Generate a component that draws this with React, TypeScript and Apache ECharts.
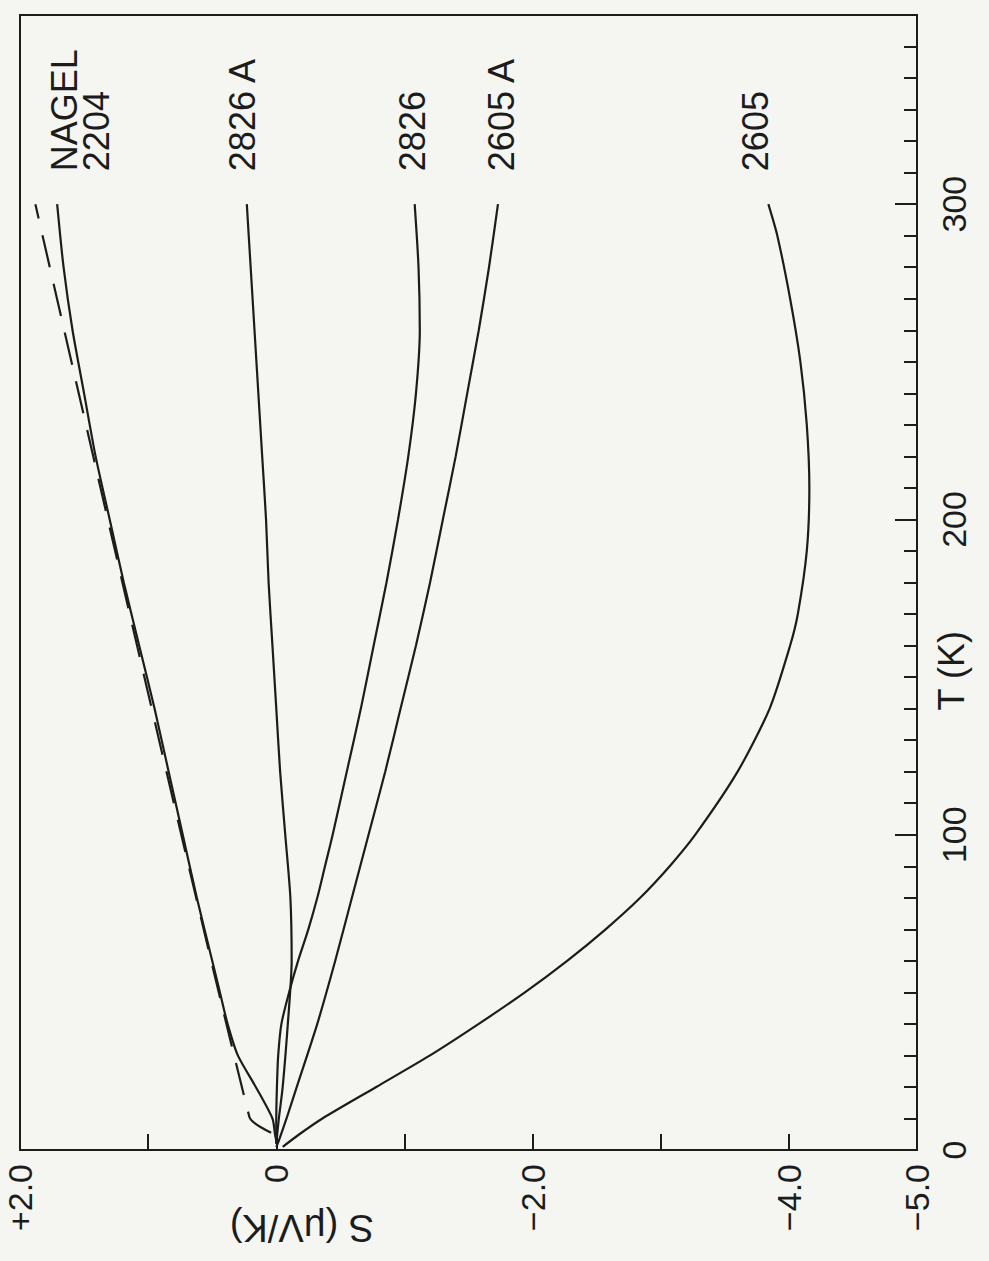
import React, { useEffect, useRef } from "react";
import * as echarts from "echarts";

// S axis (horizontal, µV/K) tick labels; T axis (vertical, K) tick labels
const S_TICK_LABELS: Record<string, string> = { "2": "+2.0", "0": "0", "-2": "−2.0", "-4": "−4.0", "-5": "−5.0" };
const T_TICK_LABELS: Record<string, string> = { "0": "0", "100": "100", "200": "200", "300": "300" };

// NAGEL reference (dashed)
const T_NAGEL = [5.5, 10.5, 300];
const S_NAGEL = [0.04, 0.21, 1.88];

// 2204
const T_2204 = [3, 5, 10, 20, 30, 40, 50, 60, 80, 100, 120, 140, 160, 180, 200, 220, 240, 260, 280, 300];
const S_2204 = [0.0, 0.01, 0.03, 0.16, 0.3, 0.38, 0.44, 0.5, 0.62, 0.73, 0.84, 0.95, 1.07, 1.19, 1.3, 1.41, 1.5, 1.59, 1.66, 1.71];

// 2826 A
const T_2826A = [2, 10, 20, 40, 60, 80, 100, 120, 140, 160, 180, 200, 220, 240, 260, 280, 300];
const S_2826A = [0.0, -0.02, -0.05, -0.09, -0.12, -0.11, -0.07, -0.03, 0.0, 0.03, 0.06, 0.08, 0.11, 0.14, 0.17, 0.2, 0.23];

// 2826
const T_2826 = [2, 10, 20, 30, 40, 50, 60, 70, 80, 90, 100, 120, 140, 160, 180, 200, 220, 240, 260, 280, 300];
const S_2826 = [0.0, 0.0, -0.005, -0.015, -0.04, -0.1, -0.17, -0.25, -0.32, -0.38, -0.44, -0.55, -0.66, -0.76, -0.86, -0.95, -1.03, -1.09, -1.12, -1.11, -1.08];

// 2605 A
const T_2605A = [1, 3, 10, 20, 40, 60, 80, 100, 120, 140, 160, 180, 200, 220, 240, 260, 280, 300];
const S_2605A = [0.0, -0.02, -0.08, -0.16, -0.32, -0.46, -0.59, -0.72, -0.85, -0.97, -1.09, -1.2, -1.3, -1.4, -1.49, -1.58, -1.66, -1.73];

// 2605
const T_2605 = [1, 5, 10, 20, 30, 40, 50, 60, 70, 80, 90, 100, 120, 140, 160, 170, 190, 210, 230, 250, 270, 290, 300];
const S_2605 = [-0.05, -0.18, -0.36, -0.78, -1.2, -1.58, -1.94, -2.27, -2.57, -2.84, -3.07, -3.27, -3.6, -3.85, -4.01, -4.07, -4.14, -4.16, -4.14, -4.09, -4.01, -3.91, -3.84];

const INK = "#1c1c1c";
const FONT = "Liberation Sans";

export default function App() {
  const ref = useRef<HTMLDivElement>(null);

  useEffect(() => {
    const chart = echarts.init(ref.current!, null, { renderer: "svg" });

    const mk = (name: string, ts: number[], ss: number[], dashed = false) => ({
      name,
      type: "line",
      data: ts.map((t, i) => [ss[i], t]),
      smooth: 0.25,
      showSymbol: false,
      symbol: "none",
      lineStyle: { color: INK, width: 2.2, type: dashed ? [33, 17] : "solid" },
      silent: true,
    });

    const series = [
      mk("NAGEL", T_NAGEL, S_NAGEL, true),
      mk("2204", T_2204, S_2204),
      mk("2826 A", T_2826A, S_2826A),
      mk("2826", T_2826, S_2826),
      mk("2605 A", T_2605A, S_2605A),
      mk("2605", T_2605, S_2605),
    ];

    chart.setOption({
      animation: false,
      backgroundColor: "#f5f6f1",
      grid: { left: 20, right: 72, top: 15, bottom: 111, show: true, borderColor: INK, borderWidth: 2 },
      xAxis: {
        type: "value",
        min: -5,
        max: 2,
        interval: 1,
        inverse: true,
        position: "bottom",
        axisLine: { onZero: false, lineStyle: { color: INK, width: 2 } },
        axisTick: { inside: true, length: 16, lineStyle: { color: INK, width: 2 } },
        splitLine: { show: false },
        axisLabel: {
          rotate: 90,
          margin: 14,
          color: INK,
          fontFamily: FONT,
          fontSize: 34,
          formatter: (v: number) => S_TICK_LABELS[String(v)] ?? "",
        },
      },
      yAxis: [
        {
          type: "value",
          min: 0,
          max: 360,
          interval: 100,
          position: "right",
          axisLine: { onZero: false, lineStyle: { color: INK, width: 2 } },
          axisTick: { inside: true, length: 22, lineStyle: { color: INK, width: 2 } },
          splitLine: { show: false },
          axisLabel: {
            rotate: 90,
            margin: 20,
            color: INK,
            fontFamily: FONT,
            fontSize: 34,
            formatter: (v: number) => T_TICK_LABELS[String(v)] ?? "",
          },
        },
        {
          type: "value",
          min: 0,
          max: 360,
          interval: 10,
          position: "right",
          axisLine: { show: false, onZero: false },
          axisTick: { inside: true, length: 13, lineStyle: { color: INK, width: 2 } },
          splitLine: { show: false },
          axisLabel: { show: false },
        },
      ],
      series,
    });

    const px = (s: number, t: number) =>
      chart.convertToPixel({ xAxisIndex: 0, yAxisIndex: 0 }, [s, t]) as number[];

    const last = (arr: number[]) => arr[arr.length - 1];
    const curveLabels: [string, number, number, number][] = [
      ["NAGEL", last(S_NAGEL), last(T_NAGEL), 29],
      ["2204", last(S_2204), last(T_2204), 39],
      ["2826 A", last(S_2826A), last(T_2826A), -4],
      ["2826", last(S_2826), last(T_2826), -2],
      ["2605 A", last(S_2605A), last(T_2605A), 4],
      ["2605", last(S_2605), last(T_2605), -13],
    ];

    const graphics: any[] = curveLabels.map(([text, s, t, dx]) => {
      const [x, y] = px(s, t);
      return {
        type: "text",
        x: x + dx,
        y: y - 33,
        rotation: Math.PI / 2,
        silent: true,
        style: { text, fill: INK, fontFamily: FONT, fontSize: 36, align: "left", verticalAlign: "middle" },
      };
    });

    const [tx, ty] = px(-5, 152);
    graphics.push({
      type: "text",
      x: tx + 34,
      y: ty,
      rotation: Math.PI / 2,
      silent: true,
      style: { text: "T (K)", fill: INK, fontFamily: FONT, fontSize: 36, align: "center", verticalAlign: "middle" },
    });

    const [sx, sy] = px(-0.2, 0);
    graphics.push({
      type: "text",
      x: sx,
      y: sy + 78,
      rotation: Math.PI,
      silent: true,
      style: { text: "S (μV/K)", fill: INK, fontFamily: FONT, fontSize: 38, align: "center", verticalAlign: "middle" },
    });

    chart.setOption({ graphic: graphics });

    return () => chart.dispose();
  }, []);

  return (
    <div
      ref={ref}
      style={{ position: "absolute", left: 0, top: 0, width: 989, height: 1261, background: "#f5f6f1" }}
    />
  );
}
